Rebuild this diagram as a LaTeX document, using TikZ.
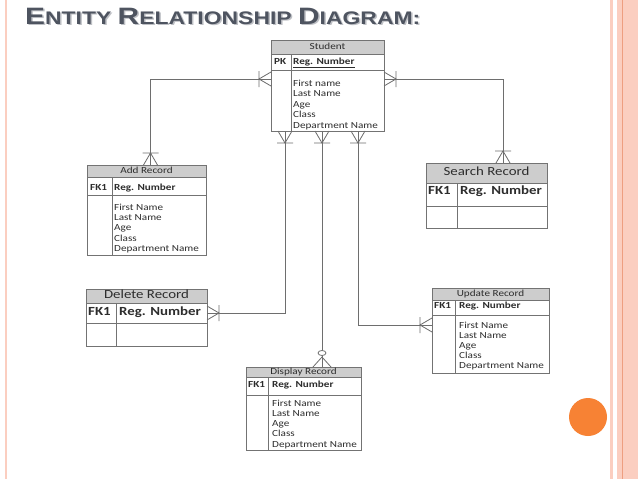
\documentclass[tikz,border=0pt]{standalone}
\usepackage{fontspec}
\setmainfont{Carlito}[FakeStretch=1.2]
\newfontfamily\titlefont{Liberation Sans}[FakeStretch=1.26]

\definecolor{boxgray}{RGB}{115,115,115}
\definecolor{headgray}{RGB}{205,205,205}
\definecolor{linkgray}{RGB}{110,110,110}
\definecolor{txtgray}{RGB}{45,45,45}
\definecolor{titlegray}{RGB}{78,84,96}
\definecolor{shadowgray}{RGB}{190,192,197}
\definecolor{salmon}{RGB}{251,206,192}
\definecolor{salmondark}{RGB}{238,158,128}
\definecolor{dotorange}{RGB}{247,130,52}

\newcommand{\smalltab}{\fontsize{9.3}{10}\selectfont}
\newcommand{\largetab}{\fontsize{12.4}{13}\selectfont}
\newcommand{\capletter}[1]{{\fontsize{23.7}{24}\selectfont #1}}

% one entity box: name, north-west corner, width, height,
% header bottom, key row bottom, key column width
\newcommand{\ertable}[7]{%
  \node[tablebox, minimum width=#3, minimum height=#4] (#1) at (#2) {};
  \draw[headbar] (#1.north west) rectangle ([yshift=-#5]#1.north east);
  \draw[rule] ([yshift=-#6]#1.north west) -- ([yshift=-#6]#1.north east);
  \draw[rule] ([xshift=#7,yshift=-#5]#1.north west) -- ([xshift=#7]#1.south west);
}

% crow's foot with bar (one or many), #2 = direction away from the entity
\newcommand{\crowbar}[2]{%
  \begin{scope}[shift={(#1)}, rotate=#2]
    \draw[link] (0,-7) -- (12,0) -- (0,7) (12,-8) -- (12,8);
  \end{scope}}
% crow's foot with circle (zero or many)
\newcommand{\zeroend}[2]{%
  \begin{scope}[shift={(#1)}, rotate=#2]
    \draw[link] (0,-9) -- (10,0) -- (0,9);
    \draw[link, fill=white] (14,0) ellipse [x radius=2.5, y radius=4];
  \end{scope}}

\tikzset{
  tablebox/.style={draw=boxgray, fill=white, line width=0.8pt, inner sep=0pt, outer sep=0pt, anchor=north west},
  headbar/.style={draw=boxgray, fill=headgray, line width=0.8pt},
  rule/.style={draw=boxgray, line width=0.8pt},
  link/.style={draw=linkgray, line width=0.8pt},
  headtxt/.style={anchor=mid, inner sep=0pt, text=txtgray, font=\smalltab},
  keytxt/.style={anchor=base west, inner sep=0pt, text=txtgray, font=\smalltab\bfseries},
  attr/.style={anchor=base west, inner sep=0pt, text=txtgray, font=\smalltab},
  bighead/.style={headtxt, font=\largetab},
  bigkey/.style={keytxt, font=\largetab\bfseries},
  titletxt/.style={anchor=base west, inner sep=0pt, font=\titlefont\bfseries\fontsize{18.2}{20}\selectfont},
}

\begin{document}
\begin{tikzpicture}[x=1pt, y=-1pt]
  \useasboundingbox (0,0) rectangle (638,479);
  \fill[white] (0,0) rectangle (638,479);

  % slide decoration
  \fill[salmon] (4.5,0) rectangle (6.5,479);
  \fill[salmon] (610,0) rectangle (613,479);
  \fill[salmon] (617,0) rectangle (638,479);
  \fill[salmondark] (621.5,0) rectangle (623,479);
  \fill[dotorange] (588,417) circle (19);

  % title with its shadow
  \node[titletxt, text=shadowgray] (title-shadow) at (26.5,25.8)
    {\capletter{E}NTITY \capletter{R}ELATIONSHIP \capletter{D}IAGRAM:};
  \node[titletxt, text=titlegray] (title) at (25,24)
    {\capletter{E}NTITY \capletter{R}ELATIONSHIP \capletter{D}IAGRAM:};

  % entity boxes
  \ertable{student}{271,40}{113pt}{91pt}{14pt}{30pt}{20pt}
  \ertable{add}{87,165}{119pt}{90pt}{12pt}{30pt}{25pt}
  \ertable{search}{426,163}{121pt}{65pt}{20pt}{43pt}{31pt}
  \ertable{delete}{86,289}{121pt}{57pt}{14pt}{34pt}{30pt}
  \ertable{update}{432,288}{117pt}{85pt}{12pt}{27pt}{23pt}
  \ertable{display}{246,367}{115pt}{83pt}{10.5pt}{28pt}{22pt}

  % Student
  \node[headtxt] (student-title) at ([yshift=-7pt]student.north) {Student};
  \node[keytxt] (student-pk) at (274,64.5) {PK};
  \node[keytxt] (student-key) at (293,64.5) {\underline{Reg. Number}};
  \foreach \t [count=\i] in {First name, Last Name, Age, Class, Department Name}
    \node[attr] (student-a\i) at (293,75.5+10.5*\i) {\t};

  % Add Record
  \node[headtxt] (add-title) at ([yshift=-6pt]add.north) {Add Record};
  \node[keytxt] (add-fk) at (90,190) {FK1};
  \node[keytxt] (add-key) at (114,190) {Reg. Number};
  \foreach \t [count=\i] in {First Name, Last Name, Age, Class, Department Name}
    \node[attr] (add-a\i) at (114,199.6+10.4*\i) {\t};

  % Search Record
  \node[bighead] (search-title) at ([yshift=-10pt]search.north) {Search Record};
  \node[bigkey] (search-fk) at (428,194.5) {FK1};
  \node[bigkey] (search-key) at (460,194.5) {Reg. Number};

  % Delete Record
  \node[bighead] (delete-title) at ([yshift=-7pt]delete.north) {Delete Record};
  \node[bigkey] (delete-fk) at (88,315) {FK1};
  \node[bigkey] (delete-key) at (119,315) {Reg. Number};

  % Update Record
  \node[headtxt] (update-title) at ([yshift=-6pt]update.north) {Update Record};
  \node[keytxt] (update-fk) at (434,308.5) {FK1};
  \node[keytxt] (update-key) at (459,308.5) {Reg. Number};
  \foreach \t [count=\i] in {First Name, Last Name, Age, Class, Department Name}
    \node[attr] (update-a\i) at (459,317.8+10.2*\i) {\t};

  % Display Record
  \node[headtxt] (display-title) at ([yshift=-5.25pt]display.north) {Display Record};
  \node[keytxt] (display-fk) at (248,387.5) {FK1};
  \node[keytxt] (display-key) at (272,387.5) {Reg. Number};
  \foreach \t [count=\i] in {First Name, Last Name, Age, Class, Department Name}
    \node[attr] (display-a\i) at (272,395.7+10.3*\i) {\t};

  % connector ends
  \coordinate (stu-l) at ([yshift=6.5pt]student.west);
  \coordinate (stu-r) at ([yshift=6.5pt]student.east);
  \coordinate (stu-b1) at ([xshift=-42.5pt]student.south);
  \coordinate (stu-b2) at ([xshift=-5.5pt]student.south);
  \coordinate (stu-b3) at ([xshift=30.5pt]student.south);
  \coordinate (add-t) at ([xshift=4pt]add.north);
  \coordinate (search-t) at ([xshift=16.5pt]search.north);
  \coordinate (delete-r) at ([yshift=4.5pt]delete.east);
  \coordinate (update-l) at ([yshift=5.5pt]update.west);
  \coordinate (display-t) at (stu-b2 |- display.north);

  % relationships
  \draw[link] (stu-l) -| (add-t);
  \draw[link] (stu-r) -| (search-t);
  \draw[link] (stu-b1) |- (delete-r);
  \draw[link] (stu-b2) -- (display-t);
  \draw[link] (stu-b3) |- (update-l);

  \crowbar{stu-l}{180}
  \crowbar{stu-r}{0}
  \crowbar{stu-b1}{270}
  \crowbar{stu-b2}{270}
  \crowbar{stu-b3}{270}
  \crowbar{add-t}{90}
  \crowbar{search-t}{90}
  \crowbar{delete-r}{0}
  \crowbar{update-l}{180}
  \zeroend{display-t}{90}
\end{tikzpicture}
\end{document}
